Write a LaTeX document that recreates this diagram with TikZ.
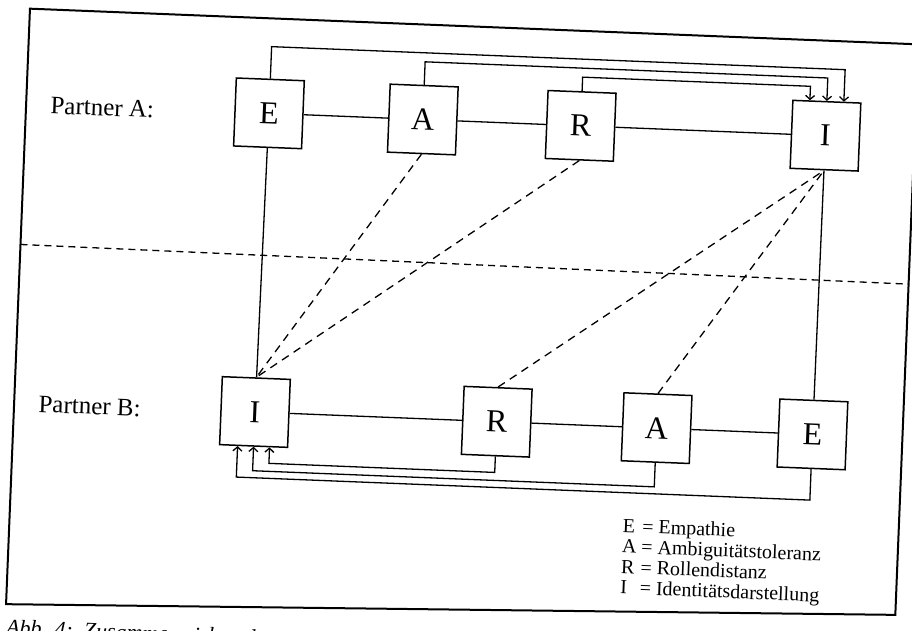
\documentclass[tikz,border=0pt]{standalone}
\usepackage{fontspec}
\setmainfont{Liberation Serif}
\usetikzlibrary{arrows,arrows.meta}

\begin{document}
\begin{tikzpicture}[x=1pt,y=-1pt,>={Straight Barb[length=4pt,width=9pt]},
	box/.style={draw, line width=1.5pt, minimum size=68pt, inner sep=0pt, font=\fontsize{32}{32}\selectfont},
	link/.style={line width=1.3pt},
	influence/.style={line width=1.3pt, dash pattern=on 8pt off 6pt}]
	\useasboundingbox (0,0) rectangle (912,631);
	\begin{scope}[transform canvas={rotate around={-2.3:(456,315)}}]
	% frame and separator
	\draw[line width=2pt] (18,622) -- (18,26) -- (907,26) -- (907,597) -- cycle;
	\draw[line width=1.3pt, dash pattern=on 7pt off 5pt] (18,262) -- (907,266);
	
	\node[anchor=west, font=\fontsize{25}{25}\selectfont] (partnerA) at (39,122) {Partner A:};
	\node[anchor=west, font=\fontsize{25}{25}\selectfont] (partnerB) at (39,421) {Partner B:};
	
	\node[box] (eA) at (261,121) {E};
	\node[box] (aA) at (415,121) {A};
	\node[box] (rA) at (573,121) {R};
	\node[box] (iA) at (818,121) {I};
	
	\node[box] (iB) at (259,420) {I};
	\node[box] (rB) at (501,420) {R};
	\node[box] (aB) at (661,420) {A};
	\node[box] (eB) at (817,420) {E};
	
	\draw[link] (eA) -- (aA) -- (rA) -- (iA);
	\draw[link] (iB) -- (rB) -- (aB) -- (eB);
	\draw[link] (eA) -- (iB);
	\draw[link] (iA) -- (eB);
	
	\draw[link,->] (eA.north) -- ++(0,-32) -| ([xshift=17pt]iA.north);
	\draw[link,->] (aA.north) -- ++(0,-23) -| (iA.north);
	\draw[link,->] (rA.north) -- ++(0,-14) -| ([xshift=-17pt]iA.north);
	
	\draw[link,->] (rB.south) -- ++(0,16) -| ([xshift=16pt]iB.south);
	\draw[link,->] (aB.south) -- ++(0,24) -| (iB.south);
	\draw[link,->] (eB.south) -- ++(0,31) -| ([xshift=-16pt]iB.south);
	
	\draw[influence] (aA.south) -- (iB.north);
	\draw[influence] (rA.south) -- (iB.north);
	\draw[influence] (rB.north) -- (iA.south);
	\draw[influence] (aB.north) -- (iA.south);
	
	\node[anchor=north west, inner sep=0pt, font=\fontsize{20}{20.5}\selectfont] (legend) at (631,511)
		{\begin{tabular}{@{}l@{ = }l@{}}
			E & Empathie\\
			A & Ambiguitätstoleranz\\
			R & Rollendistanz\\
			I & Identitätsdarstellung
		\end{tabular}};
	
	\node[anchor=north west, inner sep=0pt, font=\fontsize{22}{22}\selectfont\itshape] (caption) at (19,637)
		{Abb. 4:\enspace Zusammenwirken der};
	\end{scope}
\end{tikzpicture}
\end{document}
